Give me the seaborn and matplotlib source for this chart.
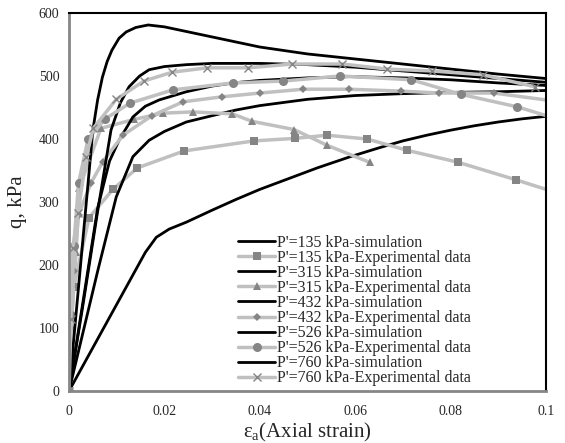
import matplotlib
matplotlib.use('Agg')
import matplotlib.pyplot as plt
import seaborn as sns

sns.set_style('white')
plt.rcParams['font.family'] = ['Liberation Serif', 'DejaVu Serif']
plt.rcParams['mathtext.fontset'] = 'custom'
plt.rcParams['mathtext.rm'] = 'Liberation Serif'
plt.rcParams['mathtext.it'] = 'Liberation Serif:italic'

# simulation curves (black)
sim135_x = [0, 0.004, 0.008, 0.012, 0.016, 0.0183, 0.021, 0.0246, 0.03, 0.035, 0.04, 0.046, 0.052, 0.059, 0.065, 0.07, 0.075, 0.08, 0.085, 0.09, 0.095, 0.1]
sim135_y = [0, 55, 110, 165, 220, 244, 257, 268, 287, 304, 320, 337, 354, 372, 386, 397, 406, 414, 421, 427, 432, 436]

sim315_x = [0, 0.003, 0.006, 0.0099, 0.0134, 0.0168, 0.02, 0.0246, 0.03, 0.035, 0.04, 0.05, 0.06, 0.07, 0.08, 0.09, 0.1]
sim315_y = [0, 95, 190, 308, 372, 398, 412, 427, 437, 446, 453, 463, 469, 472, 474, 475, 477]

sim432_x = [0, 0.003, 0.006, 0.0085, 0.0105, 0.0134, 0.016, 0.0189, 0.0246, 0.03, 0.0344, 0.04, 0.05, 0.059, 0.07, 0.08, 0.09, 0.1]
sim432_y = [0, 145, 290, 365, 398, 435, 452, 462, 475, 484, 489, 493, 497, 499, 497, 494, 489, 485]

sim526_x = [0, 0.003, 0.006, 0.0088, 0.0108, 0.0126, 0.0148, 0.0168, 0.02, 0.0246, 0.03, 0.04, 0.05, 0.06, 0.07, 0.08, 0.09, 0.1]
sim526_y = [0, 140, 285, 414, 458, 483, 500, 510, 515, 518, 520, 520, 518, 514, 508, 502, 496, 490]

sim760_x = [0, 0.002, 0.004, 0.005, 0.006, 0.007, 0.008, 0.009, 0.0105, 0.012, 0.014, 0.0166, 0.02, 0.025, 0.03, 0.04, 0.05, 0.06, 0.07, 0.08, 0.09, 0.1]
sim760_y = [0, 165, 330, 414, 462, 498, 523, 541, 560, 570, 577, 581, 578, 570, 562, 546, 535, 527, 519, 511, 503, 496]

# experimental data (grey with markers)
exp135_x = [0, 0.0003, 0.0006, 0.001, 0.0042, 0.0092, 0.0143, 0.0241, 0.0388, 0.0474, 0.0541, 0.0625, 0.0709, 0.0816, 0.0938, 0.105]
exp135_y = [0, 60, 115, 165, 275, 320, 354, 381, 397, 401, 406, 400, 382, 363, 335, 308]

exp315_x = [0, 0.0004, 0.001, 0.0015, 0.0021, 0.0067, 0.0136, 0.0197, 0.0259, 0.0342, 0.0384, 0.0472, 0.0541, 0.063]
exp315_y = [0, 100, 170, 220, 322, 417, 431, 441, 443, 440, 428, 415, 390, 363]

exp432_x = [0, 0.0005, 0.001, 0.002, 0.0046, 0.0071, 0.0113, 0.0174, 0.0239, 0.0321, 0.0401, 0.0491, 0.0588, 0.0697, 0.0776, 0.089, 0.104]
exp432_y = [0, 100, 190, 280, 330, 364, 406, 437, 459, 467, 473, 479, 479, 476, 473, 473, 458]

exp526_x = [0, 0.0005, 0.001, 0.002, 0.004, 0.0076, 0.0128, 0.0218, 0.0344, 0.0449, 0.0569, 0.0718, 0.0821, 0.094, 0.104]
exp526_y = [0, 120, 230, 330, 400, 432, 457, 478, 489, 492, 500, 494, 471, 451, 428]

exp760_x = [0, 0.0004, 0.0008, 0.0019, 0.0036, 0.0051, 0.0099, 0.0157, 0.0216, 0.029, 0.0376, 0.0468, 0.0573, 0.0667, 0.076, 0.0867, 0.0976]
exp760_y = [0, 114, 227, 283, 371, 417, 463, 492, 506, 513, 513, 519, 519, 511, 508, 502, 483]

pressures = ['135', '315', '432', '526', '760']
markers = ['s', '^', 'D', 'o', 'x']
msizes = [6, 6, 4.5, 6.5, 6]
sims = [(sim135_x, sim135_y), (sim315_x, sim315_y), (sim432_x, sim432_y),
        (sim526_x, sim526_y), (sim760_x, sim760_y)]
exps = [(exp135_x, exp135_y), (exp315_x, exp315_y), (exp432_x, exp432_y),
        (exp526_x, exp526_y), (exp760_x, exp760_y)]

fig = plt.figure(figsize=(5.65, 4.43), dpi=100)
ax = fig.add_axes([69/565, 52/443, 477/565, 378/443])

line_grey = '#c0c0c0'
mark_grey = '#858585'
for p, m, ms, (sx, sy), (ex, ey) in zip(pressures, markers, msizes, sims, exps):
    sns.lineplot(x=sx, y=sy, ax=ax, color='black', lw=2.0, sort=False,
                 label=f"P'={p} kPa-simulation")
    sns.lineplot(x=ex, y=ey, ax=ax, color=line_grey, lw=2.5, sort=False,
                 marker=m, markersize=ms, markerfacecolor=mark_grey,
                 markeredgecolor=mark_grey, markeredgewidth=1.0 if m == 'x' else 0,
                 label=f"P'={p} kPa-Experimental data")

ax.set_xlim(0, 0.1)
ax.set_ylim(0, 600)
ax.set_xticks([0, 0.02, 0.04, 0.06, 0.08, 0.1])
ax.set_xticklabels(['0', '0.02', '0.04', '0.06', '0.08', '0.1'])
ax.set_yticks(range(0, 601, 100))
ax.tick_params(axis='both', labelsize=10, length=4, width=1, direction='out',
               color='#868686', pad=3)
ax.tick_params(axis='x', pad=6)

for s in ['left', 'bottom']:
    ax.spines[s].set_color('#868686')
    ax.spines[s].set_linewidth(2)
for s in ['top', 'right']:
    ax.spines[s].set_color('black')
    ax.spines[s].set_linewidth(1.5)

ax.set_xlabel(r'$\mathregular{ε_a}$(Axial strain)', fontsize=15, labelpad=2)
ax.set_ylabel('q, kPa', fontsize=15, labelpad=8)

ax.legend(loc='upper left', bbox_to_anchor=(0.355, 0.413), frameon=False,
          fontsize=11.5, labelspacing=-0.06, handlelength=2.3, handletextpad=0.15,
          borderpad=0, borderaxespad=0)

fig.savefig('out.png', dpi=100)
